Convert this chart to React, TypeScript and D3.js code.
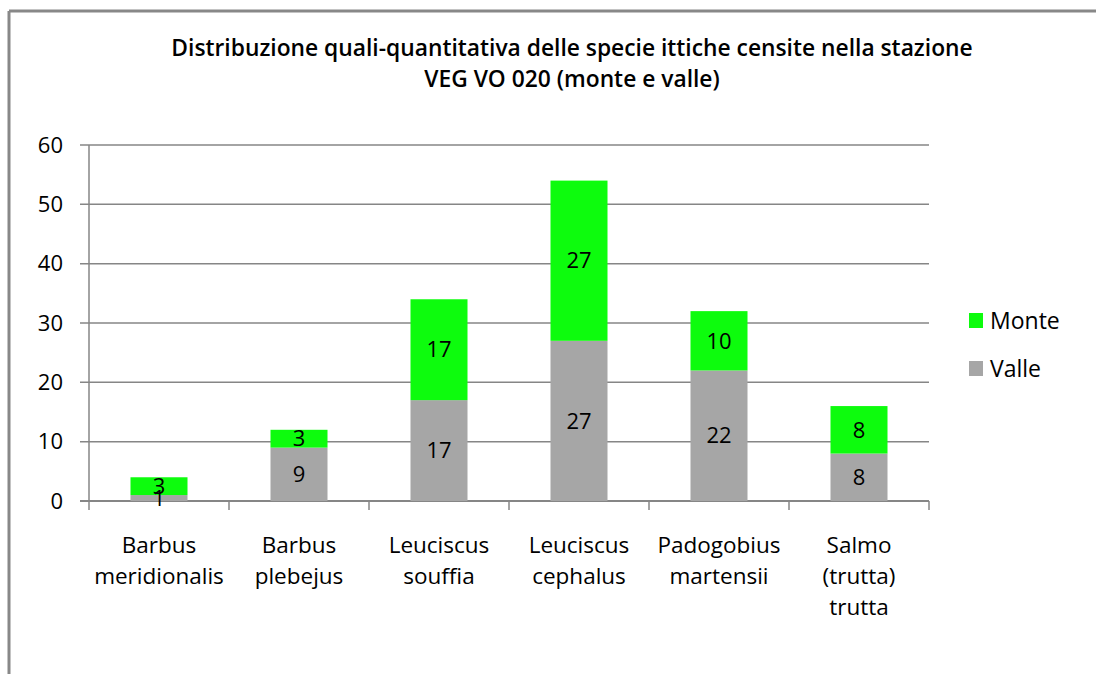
import React from "react";
import * as d3 from "d3";

const categories: string[][] = [
  ["Barbus", "meridionalis"],
  ["Barbus", "plebejus"],
  ["Leuciscus", "souffia"],
  ["Leuciscus", "cephalus"],
  ["Padogobius", "martensii"],
  ["Salmo", "(trutta)", "trutta"],
];
const valle = [1, 9, 17, 27, 22, 8];
const monte = [3, 3, 17, 27, 10, 8];
const yTicks = [0, 10, 20, 30, 40, 50, 60];
const seriesNames = ["Monte", "Valle"];
const titleLines = [
  "Distribuzione quali-quantitativa  delle specie ittiche censite nella stazione",
  "VEG VO 020 (monte e valle)",
];

const GREEN = "#0dfc0d";
const GRAY = "#a6a6a6";
const AXIS = "#868686";
const FONT = "'Open Sans', 'Noto Sans', sans-serif";

export default function App() {
  const W = 1096, H = 674;
  const left = 89, right = 929, top = 145, bottom = 501;
  const x = d3.scaleBand<number>().domain(d3.range(categories.length)).range([left, right]).paddingInner(0).paddingOuter(0);
  const y = d3.scaleLinear().domain([0, 60]).range([bottom, top]);
  const barW = 57;
  return (
    <svg width={W} height={H} style={{ position: "absolute", left: 0, top: 0, background: "#fff" }}>
      <rect x={0} y={0} width={W} height={H} fill="#fff" />
      <line x1={9} y1={11} x2={W} y2={11} stroke="#888" strokeWidth={3} />
      <line x1={9} y1={11} x2={9} y2={H} stroke="#888" strokeWidth={3} />
      {titleLines.map((t, i) => (
        <text key={i} x={572} y={56 + i * 31} textAnchor="middle" fontFamily={FONT} fontWeight={600} fontSize={22.8} fill="#000">{t}</text>
      ))}
      {yTicks.map((t) => (
        <g key={t}>
          <line x1={80} x2={right} y1={y(t)} y2={y(t)} stroke={AXIS} strokeWidth={t === 0 ? 2 : 1.5} />
          <text x={63} y={y(t)} dy="0.35em" textAnchor="end" fontFamily={FONT} fontSize={22} fill="#000">{t}</text>
        </g>
      ))}
      <line x1={left} x2={left} y1={top} y2={510} stroke={AXIS} strokeWidth={1.5} />
      {categories.map((_, i) => (
        <line key={i} x1={x(i)! + x.bandwidth()} x2={x(i)! + x.bandwidth()} y1={bottom} y2={510} stroke={AXIS} strokeWidth={1.5} />
      ))}
      {categories.map((c, i) => {
        const cx = x(i)! + x.bandwidth() / 2;
        const v = valle[i], m = monte[i];
        return (
          <g key={i}>
            <rect x={cx - barW / 2} width={barW} y={y(v)} height={y(0) - y(v)} fill={GRAY} />
            <rect x={cx - barW / 2} width={barW} y={y(v + m)} height={y(v) - y(v + m)} fill={GREEN} />
            <text x={cx} y={(y(0) + y(v)) / 2} dy="0.35em" textAnchor="middle" fontFamily={FONT} fontSize={22} fill="#000">{v}</text>
            <text x={cx} y={(y(v) + y(v + m)) / 2} dy="0.35em" textAnchor="middle" fontFamily={FONT} fontSize={22} fill="#000">{m}</text>
            {c.map((line, j) => (
              <text key={j} x={cx} y={553 + j * 31} textAnchor="middle" fontFamily={FONT} fontSize={22.5} fill="#000">{line}</text>
            ))}
          </g>
        );
      })}
      {seriesNames.map((s, i) => (
        <g key={s}>
          <rect x={969} y={313 + i * 48} width={14} height={15} fill={i === 0 ? GREEN : GRAY} />
          <text x={990} y={329 + i * 48} fontFamily={FONT} fontSize={23} fill="#000">{s}</text>
        </g>
      ))}
    </svg>
  );
}
